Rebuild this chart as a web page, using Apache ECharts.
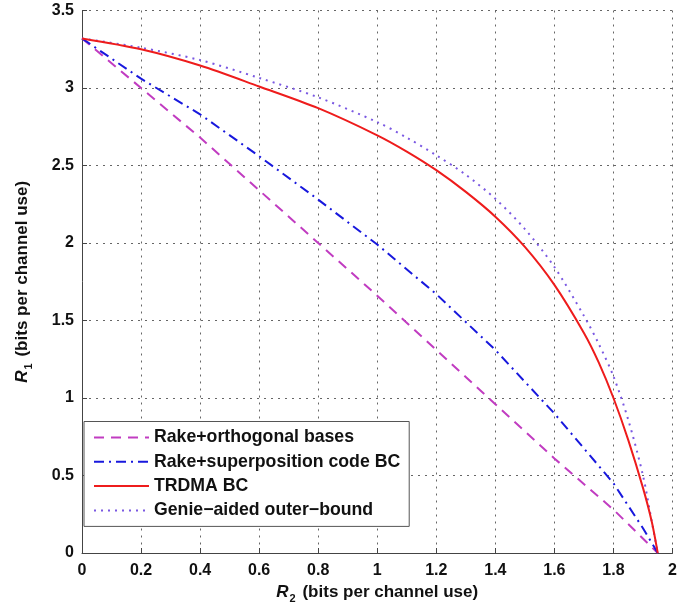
<!DOCTYPE html>
<html>
<head>
<meta charset="utf-8">
<script src="https://cdn.jsdelivr.net/npm/echarts@6/dist/echarts.min.js"></script>
<style>
html,body{margin:0;padding:0;background:#fff;}
#chart{width:700px;height:609px;}
</style>
</head>
<body>
<div id="chart"></div>
<script>
// Data
const seriesNames = ['Rake+orthogonal bases', 'Rake+superposition code BC', 'TRDMA BC', 'Genie\u2212aided outer\u2212bound'];

const orthR2 = [0, 0.2, 0.4, 0.6, 0.8, 1.0, 1.2, 1.4, 1.6, 1.8, 1.95];
const orthR1 = [3.32, 3.00, 2.68, 2.34, 2.00, 1.66, 1.31, 0.96, 0.61, 0.28, 0];

const supR2 = [0, 0.2, 0.4, 0.6, 0.8, 1.0, 1.2, 1.4, 1.6, 1.8, 1.9, 1.95];
const supR1 = [3.32, 3.06, 2.83, 2.56, 2.28, 1.99, 1.67, 1.31, 0.90, 0.45, 0.16, 0];

const trdmaR2 = [0, 0.2, 0.4, 0.6, 0.8, 1.0, 1.1, 1.2, 1.3, 1.4, 1.5, 1.6, 1.7, 1.75, 1.8, 1.85, 1.9, 1.93, 1.95];
const trdmaR1 = [3.32, 3.25, 3.145, 3.01, 2.87, 2.695, 2.59, 2.47, 2.33, 2.17, 1.975, 1.73, 1.42, 1.23, 1.00, 0.73, 0.42, 0.20, 0];

const genieR2 = [0, 0.2, 0.4, 0.6, 0.8, 1.0, 1.1, 1.2, 1.3, 1.4, 1.5, 1.6, 1.7, 1.75, 1.8, 1.85, 1.9, 1.93, 1.95];
const genieR1 = [3.32, 3.26, 3.18, 3.065, 2.94, 2.78, 2.68, 2.566, 2.44, 2.285, 2.09, 1.845, 1.53, 1.35, 1.14, 0.86, 0.50, 0.20, 0];

const xTicks = [0, 0.2, 0.4, 0.6, 0.8, 1, 1.2, 1.4, 1.6, 1.8, 2];
const yTicks = [0, 0.5, 1, 1.5, 2, 2.5, 3, 3.5];

function pairs(xs, ys) { return xs.map((x, i) => [x, ys[i]]); }

const FONT = 'Liberation Sans, Arial, Helvetica, sans-serif';
const chart = echarts.init(document.getElementById('chart'), null, {renderer: 'canvas'});

const nameRich = {
  r: {fontFamily: FONT, fontSize: 17, fontWeight: 'bold', fontStyle: 'italic', color: '#111', lineHeight: 18, verticalAlign: 'top'},
  s: {fontFamily: FONT, fontSize: 11, fontWeight: 'bold', color: '#111', lineHeight: 13, padding: [9, 2, 0, 1], verticalAlign: 'top'},
  t: {fontFamily: FONT, fontSize: 17, fontWeight: 'bold', color: '#111', lineHeight: 18, verticalAlign: 'top'}
};

const option = {
  backgroundColor: '#ffffff',
  animation: false,
  grid: {left: 82, right: 27.5, top: 10.5, bottom: 55.7, containLabel: false},
  xAxis: {
    type: 'value', min: xTicks[0], max: xTicks[xTicks.length - 1], interval: 0.2,
    name: '{r|R}{s|2}{t| (bits per channel use)}',
    nameLocation: 'middle', nameGap: 31,
    nameTextStyle: {rich: nameRich},
    axisLine: {show: true, onZero: false, lineStyle: {color: '#444', width: 1}},
    axisTick: {show: true, inside: true, length: 5, lineStyle: {color: '#444'}},
    axisLabel: {fontFamily: FONT, fontSize: 16, fontWeight: 'bold', color: '#111', margin: 10,
      formatter: v => String(+v.toFixed(1))},
    splitLine: {show: true, lineStyle: {color: '#666', type: [2, 5], width: 1}}
  },
  yAxis: {
    type: 'value', min: yTicks[0], max: yTicks[yTicks.length - 1], interval: 0.5,
    name: '{r|R}{s|1}{t| (bits per channel use)}',
    nameLocation: 'middle', nameGap: 50, nameRotate: 90,
    nameTextStyle: {rich: nameRich},
    axisLine: {show: true, onZero: false, lineStyle: {color: '#444', width: 1}},
    axisTick: {show: true, inside: true, length: 5, lineStyle: {color: '#444'}},
    axisLabel: {fontFamily: FONT, fontSize: 16, fontWeight: 'bold', color: '#111', margin: 8,
      formatter: v => String(+v.toFixed(1))},
    splitLine: {show: true, lineStyle: {color: '#666', type: [2, 5], width: 1}}
  },
  legend: {
    orient: 'vertical', left: 84, top: 421.5,
    padding: [7, 9, 7, 9],
    itemWidth: 55, itemHeight: 14, itemGap: 6.3,
    backgroundColor: '#ffffff', borderColor: '#555', borderWidth: 1,
    itemStyle: {opacity: 0},
    textStyle: {fontFamily: FONT, fontSize: 17.7, fontWeight: 'bold', color: '#111', lineHeight: 18},
    data: seriesNames
  },
  series: [
    {name: seriesNames[0], type: 'line', data: pairs(orthR2, orthR1), showSymbol: false, symbol: 'none',
      color: '#c13cc1', lineStyle: {color: '#c13cc1', width: 2, type: [10, 7]}, z: 3},
    {name: seriesNames[1], type: 'line', data: pairs(supR2, supR1), showSymbol: false, symbol: 'none',
      color: '#1818dd', lineStyle: {color: '#1818dd', width: 2, type: [10, 5, 2, 5]}, z: 3},
    {name: seriesNames[2], type: 'line', data: pairs(trdmaR2, trdmaR1), showSymbol: false, symbol: 'none',
      smooth: 0.3, color: '#ee1c1c', lineStyle: {color: '#ee1c1c', width: 2, type: 'solid'}, z: 4},
    {name: seriesNames[3], type: 'line', data: pairs(genieR2, genieR1), showSymbol: false, symbol: 'none',
      smooth: 0.3, color: '#7a58e2', lineStyle: {color: '#7a58e2', width: 2, type: [2, 5]}, z: 3}
  ]
};
chart.setOption(option);
</script>
</body>
</html>
